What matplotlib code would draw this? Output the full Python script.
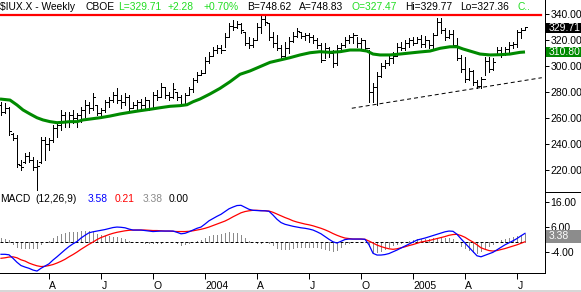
import matplotlib
matplotlib.use("Agg")
import matplotlib.pyplot as plt
from matplotlib.patches import Rectangle
from matplotlib.lines import Line2D
import numpy as np

W, H = 581, 292
plt.rcParams['font.family'] = ['Liberation Sans', 'DejaVu Sans']

# ---- data (weekly bars, index 0 = week of 2003-01-13) ----
opens = [270,265,268,248,245,224,226,231,228,222,226,243,240,243,252,255,262,258,262,260,
         262,266,270,268,270,264,266,272,274,278,274,272,276,268,270,272,270,274,268,278,
         276,284,278,276,280,276,271,278,282,289,293,295,304,308,312,314,312,322,331,330,
         332,326,318,316,320,330,336,333,322,318,314,308,314,319,323,326,323,324,322,320,
         316,305,314,310,302,314,316,320,322,324,318,320,314,280,284,292,300,302,306,308,
         315,314,318,320,318,321,317,320,316,324,334,328,322,325,316,306,298,290,296,288,
         285,290,304,298,309,312,309,313,316,317,326,327.47]
highs = [272.3,271.5,268.5,248.5,247,227.7,233,234,230,227.7,245.4,245.4,245,254.6,257,266,264.6,264.6,266,264,
         268.5,274,272,279,270,268,274,276,280,283,277.7,279,277.7,272,274,275,276,274,280,281.5,
         287,284,280,287,280,277.7,279,284,291,295.4,297,307,310.8,314.6,316,316,325.4,333,335.4,334.6,
         333,325.4,322.3,321.5,333,339.2,339,333,326,323.8,316.2,318.5,322.3,326,329,326,325.4,325.4,323.8,321.5,
         317.7,317.7,314.6,312.3,316,317.7,322.3,323.8,325.4,322.3,321.5,320,312.3,287,295.4,302.3,304.6,308.5,310.8,317.7,
         318.5,320,321.5,322.3,322.3,323.8,323,320,325.4,337,337,329.2,327.7,327.7,321.5,308.5,307,298.5,297,289.2,
         291.5,307,307,306,314.6,314.6,314.6,318.5,318.5,327.7,329.2,329.77]
lows = [262.3,263.8,247,243,222.3,220,225.4,226,220,204.6,225.4,227.7,235.4,241.5,245.4,250.8,253,253,256,253,
        257,261,264,266,262,260,264.6,268.5,272,271.5,267.7,270,266,267.7,266,267.7,266,266,267.7,274,
        276,275.4,274,275.4,274,270,270,277.7,280,287.7,293,295.4,302.3,308.5,310,310,314.6,322.3,327.7,329.2,
        325.4,316,313.8,314.6,320,325.4,331.5,320,314.6,312.3,306.2,306.2,310,318.5,322.3,321.5,320,318.5,317.7,313.8,
        303,306,307,299.2,300.8,310.8,314.6,317.7,317.7,314.6,313.8,312.3,272.3,272.3,270,291.5,298.5,300.8,302.3,308.5,
        312.3,312.3,314.6,316.2,317.7,314.6,314.6,313.8,312.3,323.8,325.4,320,321.5,314.6,304.6,295.4,287.7,289.2,285.4,283,
        283,293,295.4,297,308.5,307,308.5,310,313.8,314.6,321.5,327.36]
closes = [265,268,250,245,225,222,231,228,222,223,243,240,243,252,255,262,258,262,260,262,
          266,270,268,276,264,266,272,274,278,274,272,276,268,270,272,270,274,268,278,276,
          284,278,276,282,276,271,278,282,289,293,295,304,308,312,314,312,322,331,330,332,
          328,318,316,320,330,336,334,322,318,314,308,314,319,323,327,323,324,322,320,316,
          305,314,310,302,314,316,320,322,324,318,320,314,280,284,292,300,302,306,308,315,
          314,318,320,318,321,317,320,316,324,334,328,322,325,316,306,298,290,296,288,285,
          290,304,298,303,312,309,313,316,317,326,327.4,329.71]

# 30-week moving average read at (week position, value)
ma_pos = [-0.25,2.25,4,5.5,7.25,9,10.5,12.25,14,15.5,17.25,19,20.5,22.25,24.75,27.25,29.75,32.25,34.75,37.25,
          39.75,42.25,44.75,46.5,48,49.75,52.25,54.75,57.25,59.75,62.25,64.75,67.25,69.75,72.25,74.75,77.25,79.75,
          82.25,84.75,87.25,89.75,91.5,93,94.75,97.25,99.75,102.25,104.75,107.25,109.75,112.25,114,115.5,117.25,
          119.75,122.25,124.75,127.25,129.75,131]
ma_val = [274.6,273.8,270,266.2,263.1,260.2,258.5,257.2,256.4,256.7,257.2,257.2,258.5,259.2,260.2,261.5,263.1,264.4,
          265.6,266.7,267.9,269,269.5,270.2,272.5,274.6,278.5,282.8,287.9,293.6,296.2,299.5,302.8,304.6,306.4,308.5,
          310.2,311,310.5,311,312.3,312.3,311.5,309.2,308.5,308.5,309.2,310,310.8,311.5,313.6,314.8,314.8,313.1,311.5,
          309.2,308.5,308.7,309.2,310.5,310.8]

macd = [-4.8,-4.8,-5.0,-6.4,-8.0,-9.3,-9.9,-10.4,-11.1,-11.5,-10.4,-9.5,-8.6,-7.1,-5.8,-4.4,-3.0,-1.7,-0.6,0.3,
        1.7,2.8,3.8,4.2,4.5,4.8,5.1,5.5,5.9,6.1,6.0,5.8,5.3,4.9,4.9,4.9,4.7,4.5,4.3,4.4,
        4.5,4.5,4.5,4.5,4.0,3.4,3.6,4.2,4.9,5.6,6.1,7.3,8.6,9.5,10.4,11.2,12.3,13.4,14.1,14.7,
        14.8,14.0,13.2,12.8,12.7,12.6,12.6,12.4,10.9,9.2,7.9,7.2,6.8,6.4,6.1,5.8,5.6,5.3,4.9,4.2,
        3.4,2.3,1.2,0.2,-0.3,0.4,1.1,1.3,1.3,1.3,1.3,1.2,-1.0,-4.4,-5.1,-5.1,-4.9,-4.5,-3.8,-3.1,
        -2.3,-1.5,-0.7,0.1,0.9,1.3,1.7,2.2,2.7,3.2,3.7,4.2,4.5,4.4,3.2,1.4,-0.3,-2.0,-3.7,-5.4,
        -5.8,-5.2,-4.6,-4.0,-3.0,-2.0,-1.0,-0.2,0.6,1.5,2.6,3.58]
signal = [-6.4,-6.2,-5.9,-5.8,-6.2,-7.0,-7.5,-8.3,-8.9,-9.4,-9.7,-9.6,-9.3,-8.9,-8.3,-7.6,-6.8,-5.8,-4.9,-3.9,
          -2.8,-1.8,-0.8,0.1,1.1,1.9,2.5,3.1,3.6,4.0,4.3,4.6,4.8,4.9,4.9,4.9,4.9,4.8,4.7,4.7,
          4.6,4.5,4.5,4.4,4.3,4.3,4.3,4.4,4.6,4.9,5.2,5.6,6.1,6.7,7.3,7.9,8.5,9.3,10.2,11.0,
          11.8,12.3,12.6,12.8,12.8,12.7,12.6,12.5,12.0,11.3,10.6,9.9,9.3,8.6,8.1,7.7,7.3,7.0,6.6,6.1,
          5.6,5.0,4.3,3.5,2.8,2.2,1.7,1.5,1.3,1.3,1.3,1.2,0.5,-0.3,-1.1,-1.7,-2.2,-2.6,-2.8,-2.6,
          -2.2,-1.8,-1.3,-0.9,-0.4,0.1,0.4,0.7,1.1,1.5,1.9,2.3,2.8,3.1,3.2,2.7,2.0,1.0,0.1,-1.0,
          -2.2,-2.8,-3.3,-3.5,-3.3,-2.9,-2.5,-2.0,-1.5,-1.0,-0.4,0.21]

resistance = 339.5
trend_pts = ([87.7, 135.2], [267.5, 291.0])

xtick_pos = [12, 25, 38, 51, 64, 77, 90, 103, 116, 129]
xtick_lab = ['A', 'J', 'O', '2004', 'A', 'J', 'O', '2005', 'A', 'J']
price_ticks = [340, 320, 300, 280, 260, 240, 220]
macd_ticks = [16, 6, -4]

# ---- figure ----
fig = plt.figure(figsize=(W / 100, H / 100), dpi=100)
fig.patch.set_facecolor('white')

def fx(x): return x / W
def fy(y): return 1 - y / H

PX = 0.72  # one pixel in points
XR = 545
axp = fig.add_axes([0, fy(192), fx(XR), 192 / H])
axm = fig.add_axes([0, fy(273), fx(XR), 81 / H])
xl = (-0.25, 136)
for ax in (axp, axm):
    ax.set_xlim(*xl)
    ax.set_facecolor('none')
    for s in ('left', 'top', 'bottom'):
        ax.spines[s].set_visible(False)
    ax.spines['right'].set_linewidth(PX)
    ax.yaxis.tick_right()
    ax.tick_params(axis='y', direction='out', length=3, width=PX, pad=1,
                   labelsize=7.5, colors='black')
axp.set_ylim(340 - 178 / 1.3, 340 + 14 / 1.3)
axm.set_ylim(-(273 - 242.3) / 2.5, (242.3 - 192) / 2.5)
axm.spines['bottom'].set_visible(True)
axm.spines['bottom'].set_linewidth(PX)

axp.set_yticks(price_ticks)
axp.set_yticklabels(['%.2f' % v for v in price_ticks])
axm.set_yticks(macd_ticks)
axm.set_yticklabels(['%.2f' % v for v in macd_ticks])
axp.set_xticks([])
axm.set_xticks(xtick_pos)
axm.set_xticklabels([])
axm.tick_params(axis='x', direction='out', length=4, width=PX)
for p, lab in zip(xtick_pos, xtick_lab):
    axm.annotate(lab, xy=(p, 0), xycoords=('data', 'axes fraction'),
                 xytext=(0.3, -5.5), textcoords='offset points',
                 ha='left', va='top', fontsize=7.5, color='black')

# price bars
idx = np.arange(len(closes))
axp.vlines(idx, lows, highs, color='black', lw=PX, antialiased=False)
axp.hlines(opens, idx - 0.5, idx, color='black', lw=PX, antialiased=False)
axp.hlines(closes, idx, idx + 0.5, color='black', lw=PX, antialiased=False)
axp.plot(ma_pos, ma_val, color='#008a00', lw=2.2, solid_capstyle='butt', zorder=3)
axp.plot([-0.25, 135], [resistance, resistance], color='#ff0000', lw=1.6, zorder=4)
axp.plot(trend_pts[0], trend_pts[1], color='black', lw=PX, ls=(0, (4, 3)))

# MACD
hist = np.array(macd) - np.array(signal)
axm.vlines(idx, 0, hist, color='#8a8a8a', lw=PX, antialiased=False)
axm.plot([-0.25, 131], [0, 0], color='black', lw=PX, ls=(0, (3, 2)))
axm.plot(idx, signal, color='#ff0000', lw=0.9)
axm.plot(idx, macd, color='#0000ff', lw=0.9)

# separators
fig.add_artist(Line2D([fx(XR), 1], [fy(192), fy(192)], color='black', lw=PX))
fig.add_artist(Line2D([0, 1], [fy(290.5), fy(290.5)], color='#d0d0d0', lw=1.2))

# header texts
FS = 7.4
G = '#22dd22'
hdr = [(0, '$IUX.X - Weekly', 'black'), (86, 'CBOE', 'black'), (118, 'L=329.71', G),
       (168, '+2.28', G), (203, '+0.70%', G), (247, 'B=748.62', 'black'),
       (299, 'A=748.83', 'black'), (352, 'O=327.47', G), (405, 'Hi=329.77', 'black'),
       (460, 'Lo=327.36', 'black'), (517, 'C..', G)]
for x, t, c in hdr:
    fig.text(fx(x), fy(7), t, color=c, fontsize=FS, ha='left', va='center')

mh = [(0, 'MACD', 'black'), (35, '(12,26,9)', 'black'), (88, '3.58', '#0000ff'),
      (115, '0.21', '#ff0000'), (143, '3.38', '#8a8a8a'), (169, '0.00', 'black')]
for x, t, c in mh:
    fig.text(fx(x), fy(199), t, color=c, fontsize=FS, ha='left', va='center')

# last-value boxes on the right axis
boxes = [(22.7, 33.3, '#000000', '329.71'), (46.7, 57.3, '#008a00', '310.80'),
         (230, 242.7, '#8c8c8c', '3.38')]
for y0, y1, col, t in boxes:
    fig.add_artist(Rectangle((fx(XR + 1), fy(y1)), fx(W - XR - 1), (y1 - y0) / H,
                             transform=fig.transFigure, facecolor=col, edgecolor='none', zorder=5))
    fig.text(fx(549), fy((y0 + y1) / 2), t, color='white', fontsize=7.5,
             ha='left', va='center', zorder=6)

fig.savefig('out.png', dpi=100, facecolor='white')
